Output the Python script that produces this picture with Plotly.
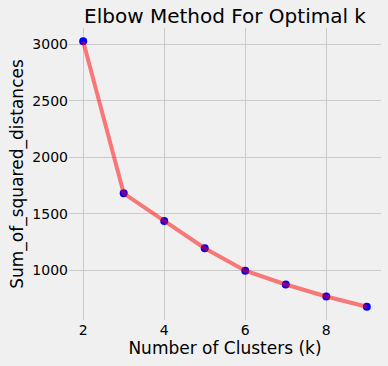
import plotly.graph_objects as go

k_values = [2, 3, 4, 5, 6, 7, 8, 9]
sse_values = [3027, 1682, 1438, 1197, 998, 876, 770, 679]
x_ticks = [2, 4, 6, 8]
y_ticks = [1000, 1500, 2000, 2500, 3000]

fig = go.Figure()
fig.add_trace(go.Scatter(x=k_values, y=sse_values, mode="markers",
                         marker=dict(color="#0000ff", size=8, line=dict(width=0)),
                         showlegend=False, hoverinfo="skip"))
fig.add_trace(go.Scatter(x=k_values, y=sse_values, mode="lines",
                         line=dict(color="rgba(255,0,0,0.5)", width=4),
                         showlegend=False))

font_family = "DejaVu Sans"
fig.update_layout(
    width=388, height=366,
    paper_bgcolor="#f0f0f0", plot_bgcolor="#f0f0f0",
    margin=dict(l=69, r=7, t=28, b=46, autoexpand=False),
    font=dict(family=font_family, color="#000000", size=14),
    title=dict(text="Elbow Method For Optimal k", x=0.5, xref="paper", xanchor="center",
               y=1 - 16/366, yref="container", yanchor="middle",
               font=dict(size=20, family=font_family, color="#000000")),
    xaxis=dict(range=[1.65, 9.35], tickvals=x_ticks, showgrid=True, automargin=False,
               gridcolor="#cbcbcb", gridwidth=1, zeroline=False, showline=False,
               ticks="", tickfont=dict(size=14),
               title=dict(text="Number of Clusters (k)", font=dict(size=17), standoff=4)),
    yaxis=dict(range=[562, 3144], tickvals=y_ticks, showgrid=True, automargin=False,
               gridcolor="#cbcbcb", gridwidth=1, zeroline=False, showline=False,
               ticks="", tickfont=dict(size=14),
               title=dict(text="Sum_of_squared_distances", font=dict(size=17), standoff=4)),
)

fig.write_html("out.html", config={"displayModeBar": False},
               post_script="document.body.style.margin='0';document.body.style.background='#f0f0f0';")
